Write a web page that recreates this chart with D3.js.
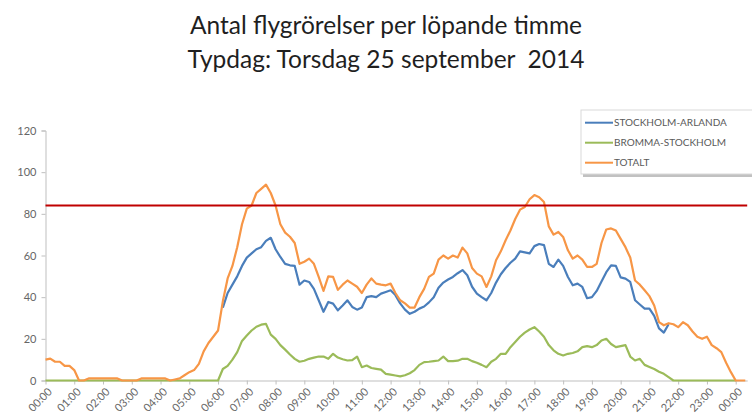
<!DOCTYPE html>
<html>
<head>
<meta charset="utf-8">
<script src="https://cdn.jsdelivr.net/npm/d3@7"></script>
<style>
  body { margin: 0; background: #fff; }
  svg { display: block; font-family: Lato, "Open Sans", sans-serif; }
  .title { white-space: pre; }
  .axis path, .axis line { stroke: #bfbfbf; }
  .axis text { fill: #666; font-size: 11px; font-family: Lato, sans-serif; }
</style>
</head>
<body>
<div id="chart"></div>
<script>
// en mätpunkt var tionde minut, 00:00 -> 24:20
const STEP_MIN = 10;

const TITLE = ["Antal flygrörelser per löpande timme", "Typdag: Torsdag 25 september  2014"];
const SERIES_NAMES = ["STOCKHOLM-ARLANDA", "BROMMA-STOCKHOLM", "TOTALT"];
const Y_TICKS = [0, 20, 40, 60, 80, 100, 120];
const HOUR_TICKS = d3.range(0, 25);
const KAPACITET = 84;   // röda linjen

// totalt, 00:00 - 24:20
const totalt = [
  10, 10.5, 9, 9, 7, 7,
  5, 0, 0, 1, 1, 1,
  1, 1, 1, 1, 0, 0,
  0, 0, 1, 1, 1, 1,
  1, 1, 0, 0.5, 1, 2.5,
  4, 5, 8, 14, 18, 21,
  24, 38, 49, 55, 64, 75,
  82.5, 84, 90, 92, 94, 90,
  84, 75, 71, 69, 66, 56,
  57, 58.5, 56, 49.7, 43, 50,
  49.7, 43.5, 46, 48, 46.5, 45,
  42, 46, 49, 46.5, 46, 45.7,
  46.5, 42, 38.5, 37, 35, 35,
  40, 44, 49.7, 51.3, 58, 60,
  58.5, 60, 59, 63.8, 61, 54,
  51.3, 50, 44.9, 50, 57.7, 62,
  67.3, 72, 77.5, 82, 83.3, 87,
  89, 88, 85.7, 74, 70, 71.3,
  68.9, 62.5, 58.5, 60, 58, 54.5,
  54.5, 56, 66, 72.5, 73, 72,
  68, 64, 59, 48, 46, 43.3,
  40.5, 36, 28, 26.5, 27.5, 27,
  25.6, 28, 26.5, 23.5, 21, 20,
  21, 17, 15.5, 13.6, 8.5, 4,
  0, 0, 0
];

// Arlanda, data finns 06:10 - 21:40
const ARLANDA_START = 37; // index för 06:10
const arlanda = [
  35, 42, 46, 50, 55,
  59, 61, 63, 64, 67, 68.5,
  63, 59.3, 56, 55.3, 55, 46,
  48, 47.3, 44, 38.5, 33, 37.7,
  36.9, 33.7, 36, 38.5, 35.3, 34,
  35, 40, 40.5, 40, 41.7, 42.5,
  43.3, 41, 37, 34, 32, 33,
  34.5, 35.5, 37.5, 40, 44.5, 47,
  48.5, 49.7, 51.5, 53, 50.5, 45,
  41.7, 40, 38.5, 42, 47, 51,
  54, 56.5, 58.5, 62, 61.5, 61,
  64.5, 65.5, 65, 56, 54.5, 58,
  55, 49.7, 45.7, 46.5, 44.9, 39.5,
  40, 43, 47.5, 52, 55.3, 55,
  49.5, 48.9, 47.3, 38.5, 36.5, 34.5,
  34.5, 31, 25, 23, 27
];

// Bromma, 00:00 - 24:00
const bromma = [
  0, 0, 0, 0, 0, 0,
  0, 0, 0, 0, 0, 0,
  0, 0, 0, 0, 0, 0,
  0, 0, 0, 0, 0, 0,
  0, 0, 0, 0, 0, 0,
  0, 0, 0, 0, 0, 0,
  0, 5.5, 7, 10, 13.6, 19,
  21.6, 24, 25.8, 26.8, 27.2, 22,
  20, 17, 14.8, 12.5, 10.4, 9,
  9.5, 10.4, 11, 11.5, 11.5, 10.4,
  12.8, 11, 10.2, 9.6, 9.8, 11.5,
  6.4, 7.2, 6, 5.6, 5.2, 3.2,
  2.8, 2.4, 2, 2.5, 3.5, 5,
  7.5, 8.8, 9, 9.3, 9.6, 11.5,
  9.3, 9.3, 9.5, 10.4, 10.4, 9.3,
  8.5, 7.5, 6.4, 9, 10.4, 12.8,
  12.8, 16, 18.5, 21, 23, 24.5,
  25.6, 23.5, 21, 17, 14.5, 12.8,
  12, 12.8, 13.2, 14, 16, 16.5,
  16, 17, 19.2, 20, 17.5, 16,
  16.5, 17, 11.5, 9.6, 10.4, 7.5,
  6.5, 5.5, 4.2, 3.2, 1.6, 0,
  0, 0, 0, 0, 0, 0,
  0, 0, 0, 0, 0, 0,
  0
];

const COLORS = ["#4a7ebb", "#9bbb59", "#f79646"];

const W = 752, H = 417;
const svg = d3.select("#chart").append("svg")
  .attr("width", W).attr("height", H);

// titel
svg.selectAll(".title")
  .data(TITLE)
  .enter().append("text")
  .attr("class", "title")
  .attr("x", 386)
  .attr("y", (d, i) => 34 + i * 33.5)
  .attr("text-anchor", "middle")
  .attr("font-size", "24.5px")
  .attr("fill", "#1f1f1f")
  .text(d => d);

// skalor
const x = d3.scaleLinear().domain([0, 24.4]).range([45.5, 747.2]);
const y = d3.scaleLinear().domain([0, 120]).range([380.5, 130.5]);

// y-axel
svg.append("g")
  .attr("class", "axis")
  .attr("transform", "translate(45.5,0)")
  .call(d3.axisLeft(y).tickValues(Y_TICKS).tickSize(4).tickPadding(5))
  .call(g => g.select(".domain").attr("stroke", "#d9d9d9"));

// x-axel
svg.append("g")
  .attr("class", "axis")
  .attr("transform", "translate(0,380.5)")
  .call(d3.axisBottom(x).tickValues(HOUR_TICKS).tickSize(4).tickSizeOuter(0)
    .tickFormat(h => String(h % 24).padStart(2, "0") + ":00"))
  .selectAll("text")
    .attr("text-anchor", "end")
    .attr("transform", "translate(3,8) rotate(-45)")
    .attr("dy", "0.5em")
    .attr("y", 0);

// linjer
const tid = i => i * STEP_MIN / 60;
const line = d3.line()
  .defined(d => d.v != null)
  .x(d => x(d.t))
  .y(d => y(d.v));

const serier = [
  arlanda.map((v, i) => ({ t: tid(i + ARLANDA_START), v })),
  bromma.map((v, i) => ({ t: tid(i), v })),
  totalt.map((v, i) => ({ t: tid(i), v }))
];

svg.selectAll(".serie")
  .data(serier)
  .enter().append("path")
  .attr("class", "serie")
  .attr("fill", "none")
  .attr("stroke", (d, i) => COLORS[i])
  .attr("stroke-width", 2.2)
  .attr("stroke-linejoin", "round")
  .attr("d", line);

// röd linje
svg.append("line")
  .attr("x1", x(0)).attr("x2", x(24.4))
  .attr("y1", y(KAPACITET)).attr("y2", y(KAPACITET))
  .attr("stroke", "#c00000")
  .attr("stroke-width", 2);

// legend
const lg = svg.append("g").attr("transform", "translate(581,110)");
lg.append("rect")
  .attr("x", 2).attr("y", 3).attr("width", 180).attr("height", 64)
  .attr("fill", "#a6a6a6").attr("opacity", 0.7);
lg.append("rect")
  .attr("width", 180).attr("height", 64)
  .attr("fill", "#fff").attr("stroke", "#d9d9d9");

const item = lg.selectAll(".item")
  .data(SERIES_NAMES)
  .enter().append("g")
  .attr("transform", (d, i) => `translate(4,${12.7 + i * 20})`);
item.append("line")
  .attr("x1", 0).attr("x2", 28)
  .attr("stroke", (d, i) => COLORS[i]).attr("stroke-width", 2);
item.append("text")
  .attr("x", 29).attr("dy", "0.35em")
  .attr("font-size", "10px")
  .attr("fill", "#595959")
  .text(d => d);
</script>
</body>
</html>
